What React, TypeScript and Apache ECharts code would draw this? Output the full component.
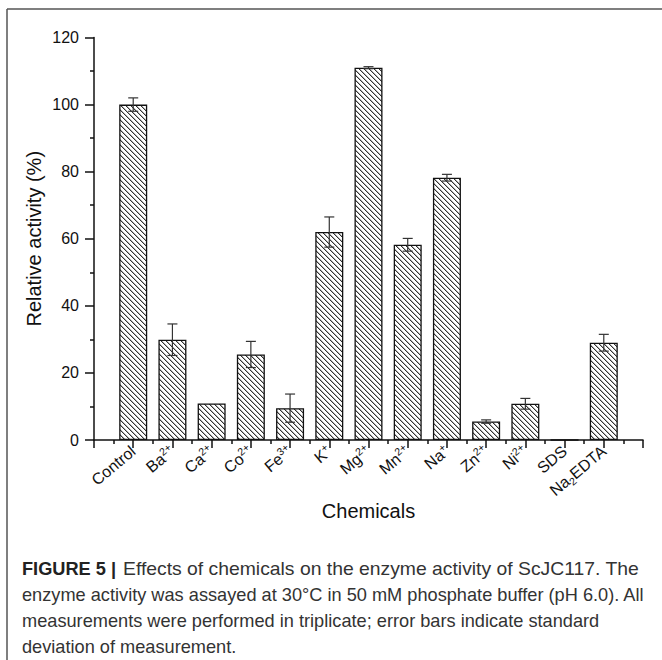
import React, { useEffect, useRef } from "react";
import * as echarts from "echarts";

const categories = ["Control", "Ba2+", "Ca2+", "Co2+", "Fe3+", "K+", "Mg2+", "Mn2+", "Na+", "Zn2+", "Ni2+", "SDS", "Na2EDTA"];
const labelRich = [
  "{n|Control}",
  "{n|Ba}{s|2+}",
  "{n|Ca}{s|2+}",
  "{n|Co}{s|2+}",
  "{n|Fe}{s|3+}",
  "{n|K}{s|+}",
  "{n|Mg}{s|2+}",
  "{n|Mn}{s|2+}",
  "{n|Na}{s|+}",
  "{n|Zn}{s|2+}",
  "{n|Ni}{s|2+}",
  "{n|SDS}",
  "{n|Na}{d|2}{n|EDTA}",
];
const activity = [100, 29.9, 10.9, 25.5, 9.5, 62, 111, 58.2, 78.2, 5.5, 10.8, 0, 29.0];
const errors = [2, 4.7, 0, 3.9, 4.2, 4.5, 0.3, 1.9, 1, 0.5, 1.6, 0, 2.5];
const yTicks = [0, 20, 40, 60, 80, 100, 120];

const captionHead = "FIGURE 5 |";
const captionFirst = "Effects of chemicals on the enzyme activity of ScJC117. The";
const captionLines = [
  "enzyme activity was assayed at 30°C in 50 mM phosphate buffer (pH 6.0). All",
  "measurements were performed in triplicate; error bars indicate standard",
  "deviation of measurement.",
];

function makeHatch() {
  const size = 10;
  const c = document.createElement("canvas");
  c.width = size;
  c.height = size;
  const ctx = c.getContext("2d")!;
  ctx.fillStyle = "#ffffff";
  ctx.fillRect(0, 0, size, size);
  for (let y = 0; y < size; y++) {
    for (let x = 0; x < size; x++) {
      const m = (((x - y) % 5) + 5) % 5;
      if (m === 0) {
        ctx.fillStyle = "#333333";
        ctx.fillRect(x, y, 1, 1);
      } else if (m === 1) {
        ctx.fillStyle = "#b0b0b0";
        ctx.fillRect(x, y, 1, 1);
      }
    }
  }
  return c.toDataURL();
}

export default function App() {
  const ref = useRef<HTMLDivElement>(null);
  useEffect(() => {
    if (!ref.current) return;
    const chart = echarts.init(ref.current, null, { renderer: "svg" });
    const hatch = makeHatch();
    const font = "Liberation Sans, Arial, sans-serif";
    const barData = activity.map((v, i) => [i + 1, v]);
    const errData = activity
      .map((v, i) => [i + 1, v - errors[i], v + errors[i], errors[i]])
      .filter((d) => d[3] > 0);
    const capStyle = { fontFamily: font, fontSize: 18.2, fill: "#333", verticalAlign: "middle" };
    chart.setOption({
      animation: false,
      backgroundColor: "#ffffff",
      grid: { left: 94, right: 19, top: 37.5, bottom: 220, containLabel: false },
      xAxis: {
        type: "value",
        min: 0,
        max: 14,
        interval: 1,
        name: "Chemicals",
        nameLocation: "middle",
        nameGap: 61,
        nameMoveOverlap: false,
        nameTextStyle: { fontFamily: font, fontSize: 20, color: "#111" },
        axisLine: { onZero: false, lineStyle: { color: "#111", width: 1.5 } },
        axisTick: { show: true, inside: false, length: 8, lineStyle: { color: "#111", width: 1.5 } },
        minorTick: { show: true, splitNumber: 2, length: 4, lineStyle: { color: "#111", width: 1.5 } },
        splitLine: { show: false },
        axisLabel: {
          show: true,
          rotate: 40,
          margin: 9,
          showMinLabel: true,
          showMaxLabel: true,
          formatter: (v: number) => (v >= 1 && v <= 13 ? labelRich[Math.round(v) - 1] : ""),
          rich: {
            n: { fontFamily: font, fontSize: 16, color: "#111", lineHeight: 20 },
            s: { fontFamily: font, fontSize: 10.5, color: "#111", verticalAlign: "top", lineHeight: 10 },
            d: { fontFamily: font, fontSize: 10.5, color: "#111", verticalAlign: "bottom", lineHeight: 10 },
          },
        },
      },
      yAxis: {
        type: "value",
        min: 0,
        max: 120,
        interval: 20,
        name: "Relative activity (%)",
        nameLocation: "middle",
        nameGap: 50,
        nameMoveOverlap: false,
        nameTextStyle: { fontFamily: font, fontSize: 20, color: "#111" },
        axisLine: { show: true, lineStyle: { color: "#111", width: 1.5 } },
        axisTick: { show: true, inside: false, length: 9, lineStyle: { color: "#111", width: 1.5 } },
        minorTick: { show: true, splitNumber: 2, length: 4, lineStyle: { color: "#111", width: 1.5 } },
        splitLine: { show: false },
        axisLabel: {
          margin: 15,
          fontFamily: font,
          fontSize: 16,
          color: "#111",
          formatter: (v: number) => (yTicks.includes(v) ? String(v) : ""),
        },
      },
      series: [
        {
          type: "bar",
          data: barData,
          barWidth: 28,
          itemStyle: {
            color: { image: hatch, repeat: "repeat", imageWidth: 10, imageHeight: 10 },
            borderColor: "#111",
            borderWidth: 1.3,
          },
          z: 2,
        },
        {
          type: "custom",
          data: errData,
          z: 3,
          renderItem: (params: any, api: any) => {
            const x = api.value(0);
            const lo = api.coord([x, api.value(1)]);
            const hi = api.coord([x, api.value(2)]);
            const hw = 5;
            const st = { stroke: "#333", lineWidth: 1.2 };
            return {
              type: "group",
              children: [
                { type: "line", shape: { x1: lo[0], y1: lo[1], x2: hi[0], y2: hi[1] }, style: st },
                { type: "line", shape: { x1: hi[0] - hw, y1: hi[1], x2: hi[0] + hw, y2: hi[1] }, style: st },
                { type: "line", shape: { x1: lo[0] - hw, y1: lo[1], x2: lo[0] + hw, y2: lo[1] }, style: st },
              ],
            };
          },
        },
      ],
      graphic: [
        { type: "line", shape: { x1: 0, y1: 0, x2: 655, y2: 0 }, x: 7, y: 9, style: { stroke: "#555", lineWidth: 1.5 } },
        { type: "line", shape: { x1: 0, y1: 0, x2: 0, y2: 651 }, x: 7, y: 9, style: { stroke: "#555", lineWidth: 1.5 } },
        {
          type: "text",
          x: 22,
          y: 569,
          style: { ...capStyle, text: captionHead, fontWeight: "bold", fill: "#222" },
        },
        {
          type: "text",
          x: 123,
          y: 569,
          scaleX: 1.063,
          style: { ...capStyle, text: captionFirst },
        },
        ...captionLines.map((t, i) => ({
          type: "text",
          x: 22,
          y: 595 + i * 26,
          style: { ...capStyle, text: t },
        })),
      ],
    });
    return () => chart.dispose();
  }, []);
  return <div ref={ref} style={{ width: 662, height: 660, position: "absolute", left: 0, top: 0 }} />;
}
